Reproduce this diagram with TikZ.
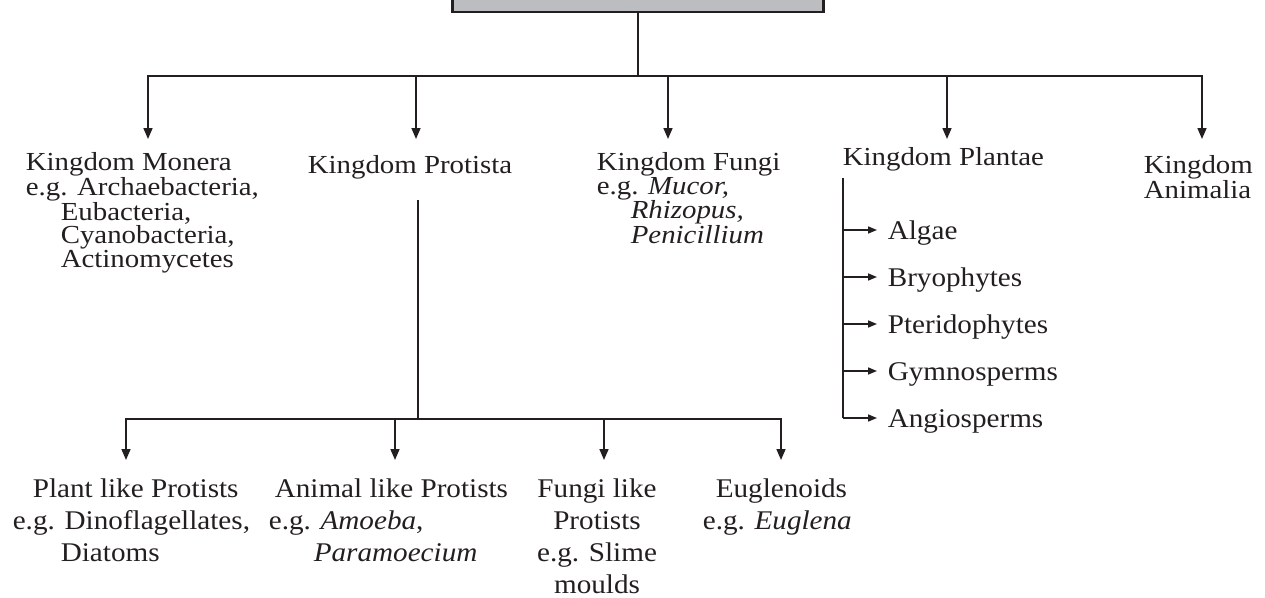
\documentclass[tikz,border=0pt]{standalone}
\usepackage{fontspec}
\setmainfont{Liberation Serif}
\newfontfamily\kfont[FakeStretch=1.11]{Liberation Serif}
\newfontfamily\gfont[FakeStretch=1.08]{Liberation Serif}
\usepackage{tikz}
\usetikzlibrary{arrows.meta,calc}
\definecolor{ink}{HTML}{231F20}
\definecolor{boxgray}{HTML}{BCBDC0}
\tikzset{
  kingdom/.style={anchor=base west, align=left, inner sep=0pt, text=ink,
    font=\kfont\fontsize{26}{23.5}\selectfont},
  group/.style={anchor=base west, align=left, inner sep=0pt, text=ink,
    font=\gfont\fontsize{27}{32}\selectfont},
  small/.style={-{Triangle[length=9pt,width=7pt]}}
}

\begin{document}
\begin{tikzpicture}[x=1pt, y=-1pt, line width=1.6pt, draw=ink, >={Triangle[length=11pt,width=9pt]}]
    \useasboundingbox (0,0) rectangle (1265,597);
    \node[draw=ink, line width=2.2pt, fill=boxgray, minimum width=371pt, minimum height=60pt, inner sep=0pt] (root) at (638,-18) {};
    \draw (root.south) -- (root.south |- 0,76) coordinate (hub);

    % base of a node = baseline of its last line
    \node[kingdom] (mon) at (25,267) {Kingdom Monera\\e.g. Archaebacteria,\\\hspace*{35pt}Eubacteria,\\\hspace*{35pt}Cyanobacteria,\\\hspace*{35pt}Actinomycetes};
    \node[kingdom] (pro) at (307,173) {Kingdom Protista};
    \node[kingdom] (fun) at (596,243.5) {Kingdom Fungi\\e.g. \textit{Mucor,}\\\hspace*{34pt}\textit{Rhizopus,}\\\hspace*{34pt}\textit{Penicillium}};
    \node[kingdom] (pla) at (842,165) {Kingdom Plantae};
    \node[kingdom] (ani) at (1143,198.5) {Kingdom\\Animalia};

    \coordinate (montip) at (148,139);
    \coordinate (protip) at (416,139);
    \coordinate (funtip) at (668,139);
    \coordinate (platip) at (947,139);
    \coordinate (anitip) at (1202,139);
    \draw[<->] (montip) -- (montip |- hub) -- (anitip |- hub) -- (anitip);
    \foreach \n in {pro,fun,pla}
        \draw[->] (\n tip |- hub) -- (\n tip);

    % plantae branches
    \foreach \t [count=\i] in {Algae,Bryophytes,Pteridophytes,Gymnosperms,Angiosperms}
        \node[group] (pl\i) at (887,192+47*\i) {\t};
    \draw (843,178) coordinate (plstem) -- (plstem |- 0,418) coordinate (plfoot);
    \foreach \i in {1,...,5}
        \draw[small] ($(pl\i.base west)+(-44,-9)$) -- ++(34,0);

    % protista branches
    \draw (418,200) coordinate (prostem) -- (prostem |- 0,419) coordinate (bhub);
    \node[group] (plt) at (12,561) {\hspace*{20pt}Plant like Protists\\e.g. Dinoflagellates,\\\hspace*{48pt}Diatoms};
    \node[group] (anl) at (268,561) {\hspace*{6pt}Animal like Protists\\e.g. \textit{Amoeba},\\\hspace*{45pt}\textit{Paramoecium}};
    \node[group, align=center, anchor=base] (fgl) at (597,593) {Fungi like\\Protists\\e.g. Slime\\moulds};
    \node[group] (eug) at (702,529) {\hspace*{13pt}Euglenoids\\e.g. \textit{Euglena}};

    \coordinate (plttip) at (126,460);
    \coordinate (anltip) at (395,460);
    \coordinate (fgltip) at (604,460);
    \coordinate (eugtip) at (781,460);
    \draw[<->] (plttip) -- (plttip |- bhub) -- (eugtip |- bhub) -- (eugtip);
    \foreach \n in {anl,fgl}
        \draw[->] (\n tip |- bhub) -- (\n tip);
\end{tikzpicture}
\end{document}
